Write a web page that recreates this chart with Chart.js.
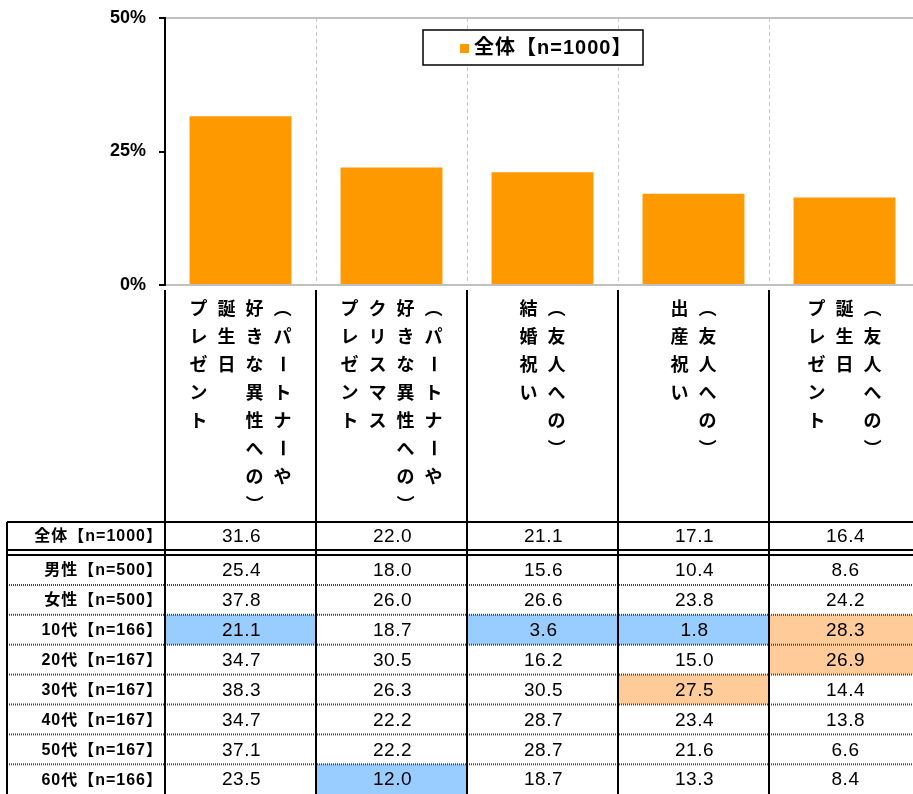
<!DOCTYPE html>
<html>
<head>
<meta charset="utf-8">
<script src="https://cdn.jsdelivr.net/npm/chart.js@4.4.0/dist/chart.umd.min.js"></script>
<style>
  html, body { margin: 0; padding: 0; overflow: hidden; background: #fff; }
  canvas { display: block; }
</style>
</head>
<body>
<canvas id="myCanvas" width="920" height="794"></canvas>
<script>
// category labels, written as vertical columns (first string = rightmost column)
const categories = [
  ["（パートナーや", "好きな異性への）", "誕生日", "プレゼント"],
  ["（パートナーや", "好きな異性への）", "クリスマス", "プレゼント"],
  ["（友人への）", "結婚祝い"],
  ["（友人への）", "出産祝い"],
  ["（友人への）", "誕生日", "プレゼント"],
];
const yTicks = [0, 25, 50];

// table rows
const groups = [
  "全体【n=1000】",
  "男性【n=500】",
  "女性【n=500】",
  "10代【n=166】",
  "20代【n=167】",
  "30代【n=167】",
  "40代【n=167】",
  "50代【n=167】",
  "60代【n=166】",
];
const total = [31.6, 22.0, 21.1, 17.1, 16.4];
const male = [25.4, 18.0, 15.6, 10.4, 8.6];
const female = [37.8, 26.0, 26.6, 23.8, 24.2];
const age10 = [21.1, 18.7, 3.6, 1.8, 28.3];
const age20 = [34.7, 30.5, 16.2, 15.0, 26.9];
const age30 = [38.3, 26.3, 30.5, 27.5, 14.4];
const age40 = [34.7, 22.2, 28.7, 23.4, 13.8];
const age50 = [37.1, 22.2, 28.7, 21.6, 6.6];
const age60 = [23.5, 12.0, 18.7, 13.3, 8.4];
const rows = [total, male, female, age10, age20, age30, age40, age50, age60];

const ORANGE = "#ff9900";
const HIGH = "#ffcc99";
const LOW = "#99ccff";
const JP = "'Noto Sans CJK JP'";

function drawVertical(ctx, text, x, y0, pitch) {
  [...text].forEach((ch, k) => {
    ctx.save();
    ctx.translate(x, y0 + k * pitch);
    if ("（）ー".includes(ch)) ctx.rotate(Math.PI / 2);
    ctx.fillText(ch, 0, 0);
    ctx.restore();
  });
}

const extras = {
  id: "extras",
  afterDraw(chart) {
    const { ctx, chartArea } = chart;
    const xs = chart.scales.x;
    const W = chart.width;
    const colW = xs.width / categories.length;

    // legend
    ctx.save();
    ctx.fillStyle = "#fff";
    ctx.fillRect(423, 30, 220, 35);
    ctx.strokeStyle = "#000";
    ctx.lineWidth = 1.5;
    ctx.strokeRect(423, 30, 220, 35);
    ctx.fillStyle = ORANGE;
    ctx.fillRect(460, 44, 9, 9);
    ctx.fillStyle = "#000";
    ctx.font = "bold 20px 'Liberation Sans', " + JP;
    ctx.letterSpacing = "1px";
    ctx.textBaseline = "middle";
    ctx.textAlign = "left";
    ctx.fillText(chart.data.datasets[0].label, 474, 48);
    ctx.letterSpacing = "0px";
    ctx.restore();

    // vertical category labels
    ctx.save();
    ctx.fillStyle = "#000";
    ctx.font = "bold 18px " + JP;
    ctx.textAlign = "center";
    ctx.textBaseline = "middle";
    categories.forEach((cols, i) => {
      const cx = xs.getPixelForValue(i);
      const n = cols.length;
      cols.forEach((txt, j) => {
        const x = cx + ((n - 1) / 2 - j) * 28;
        drawVertical(ctx, txt, x, 308, 28);
      });
    });
    ctx.restore();

    // table
    const rowTop = r => (r === 0 ? 522 : 555 + (r - 1) * 29.9);
    const rowBot = r => (r === 0 ? 550 : 555 + r * 29.9);
    ctx.save();
    rows.forEach((vals, r) => {
      const yc = (rowTop(r) + rowBot(r)) / 2 + 1;
      vals.forEach((v, c) => {
        const diff = v - total[c];
        if (r > 0 && Math.abs(diff) >= 10 - 1e-9) {
          ctx.fillStyle = diff > 0 ? HIGH : LOW;
          const left = xs.getPixelForValue(c) - colW / 2;
          ctx.fillRect(left, rowTop(r), colW, rowBot(r) - rowTop(r));
        }
        ctx.fillStyle = "#000";
        ctx.font = "19px 'Liberation Sans'";
        ctx.letterSpacing = "0.5px";
        ctx.textAlign = "center";
        ctx.textBaseline = "middle";
        ctx.fillText(v.toFixed(1), xs.getPixelForValue(c) + 1, yc);
      });
      ctx.font = "bold 16px 'Liberation Sans', " + JP;
      ctx.letterSpacing = "1px";
      ctx.textAlign = "right";
      ctx.fillText(groups[r], 163, yc);
    });
    ctx.letterSpacing = "0px";

    // horizontal rules
    ctx.strokeStyle = "#000";
    ctx.lineWidth = 2;
    [522, 550, 555].forEach(y => {
      ctx.beginPath();
      ctx.moveTo(7, y);
      ctx.lineTo(W, y);
      ctx.stroke();
    });
    ctx.strokeStyle = "#444";
    ctx.setLineDash([1, 1]);
    for (let r = 1; r < rows.length - 1; r++) {
      const y = rowBot(r);
      ctx.beginPath();
      ctx.moveTo(7, y);
      ctx.lineTo(W, y);
      ctx.stroke();
    }
    ctx.setLineDash([]);

    // vertical rules
    ctx.strokeStyle = "#000";
    ctx.beginPath();
    ctx.moveTo(7, 522);
    ctx.lineTo(7, chart.height);
    for (let k = 0; k <= categories.length; k++) {
      const x = chartArea.left + k * colW;
      ctx.moveTo(x, 290);
      ctx.lineTo(x, chart.height);
    }
    ctx.stroke();
    ctx.restore();
  },
};

new Chart(document.getElementById("myCanvas"), {
  type: "bar",
  data: {
    labels: categories.map(c => c.join("")),
    datasets: [
      {
        label: groups[0],
        data: total,
        backgroundColor: ORANGE,
        barPercentage: 0.675,
        categoryPercentage: 1,
      },
    ],
  },
  options: {
    responsive: false,
    animation: false,
    devicePixelRatio: 1,
    layout: { padding: { top: 18, bottom: 509, left: 0, right: 0 } },
    plugins: { legend: { display: false }, tooltip: { enabled: false } },
    scales: {
      x: {
        grid: {
          offset: true,
          drawTicks: false,
          color: c => (c.index === 0 ? "rgba(0,0,0,0)" : "#c8c8c8"),
          lineWidth: 1,
        },
        border: { color: "#c0c0c0", width: 2, dash: [4, 3] },
        ticks: { display: false },
        afterFit: s => { s.height = 0; },
      },
      y: {
        min: 0,
        max: 50,
        afterBuildTicks: s => { s.ticks = yTicks.map(v => ({ value: v })); },
        grid: {
          color: c => (c.tick && c.tick.value === 25 ? "rgba(0,0,0,0)" : "#c0c0c0"),
          lineWidth: 2,
          tickColor: "#000",
          tickLength: 6,
        },
        border: { color: "#000", width: 2 },
        ticks: {
          padding: 13,
          color: "#000",
          font: { family: "'Liberation Sans'", size: 18, weight: "bold" },
          callback: v => v + "%",
        },
        afterFit: s => {
          s.width = 165;
          s.paddingTop = 0;
          s.paddingBottom = 0;
        },
      },
    },
  },
  plugins: [extras],
});
</script>
</body>
</html>
